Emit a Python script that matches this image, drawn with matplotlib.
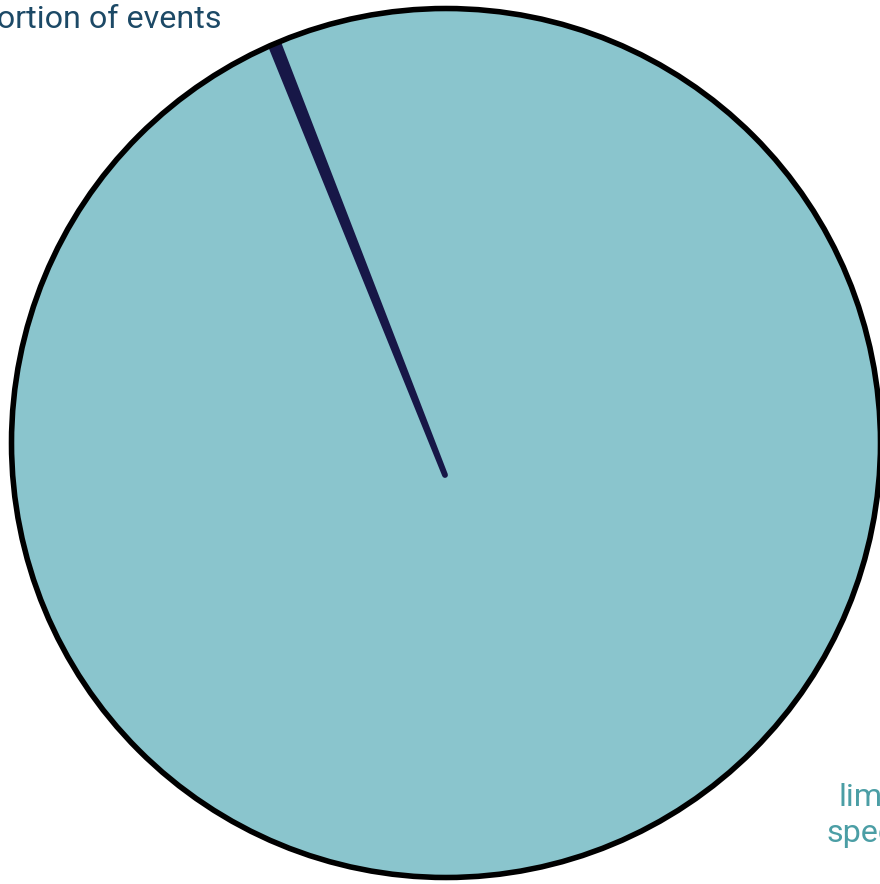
import matplotlib
matplotlib.use("Agg")
import matplotlib.pyplot as plt
from matplotlib.patches import Circle

# share of events (percent)
labels = ["Proportion of events", "limit\nspeed"]
values = [0.27, 99.73]
colors = ["#171747", "#8ac5cd"]
label_colors = ["#1c4966", "#4b9ea5"]

plt.rcParams['font.family'] = ['Roboto', 'DejaVu Sans']

fig = plt.figure(figsize=(8.8, 8.84), dpi=100)
ax = fig.add_axes([0, 0, 1, 1])

# pie center sits a bit below the outline circle center (as in the original)
wedges, _ = ax.pie(values, colors=colors, startangle=111.1, center=(445, 409),
                   radius=480, wedgeprops=dict(linewidth=0))

# thin slice gets a stroke so it stays visible, drawn on top
wedges[0].set_edgecolor(colors[0])
wedges[0].set_linewidth(4.2)
wedges[0].set_joinstyle('round')
wedges[0].set_zorder(3)

clip = Circle((446, 441), 434.5, transform=ax.transData)
for w in wedges:
    w.set_clip_on(True)
    w.set_clip_path(clip)

ax.add_patch(Circle((446, 441), 434.5, fill=False, edgecolor='black',
                    linewidth=4.0, zorder=4))

ax.set_xlim(0, 880)
ax.set_ylim(0, 884)
ax.set_aspect('equal')
ax.axis('off')

ax.text(221, 856, labels[0], ha='right', va='baseline', fontsize=23.2,
        color=label_colors[0])
ax.text(870, 42, labels[1], ha='center', va='baseline', fontsize=23.2,
        color=label_colors[1], linespacing=1.3, multialignment='center')

fig.savefig("out.png", dpi=100)
